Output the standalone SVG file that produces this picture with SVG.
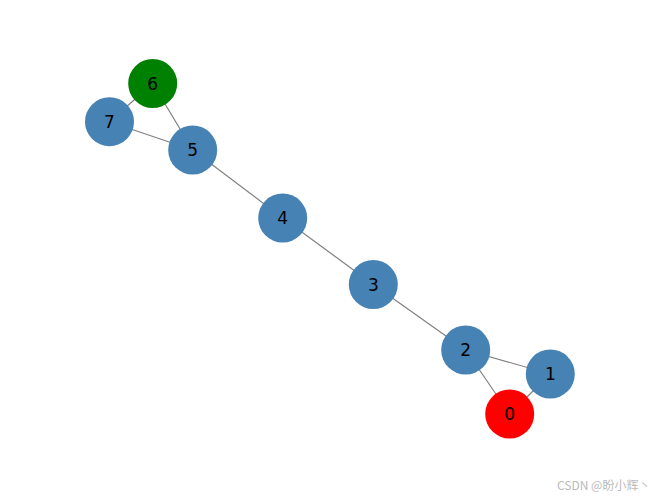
<svg xmlns="http://www.w3.org/2000/svg" width="660" height="499" viewBox="0 0 660 499">
<style>
.e{stroke:#808080;stroke-width:1.2;fill:none}
.n{fill:#4682b4}
.t{font-family:"DejaVu Sans",sans-serif;font-size:17px;fill:#000;text-anchor:middle;dominant-baseline:central}
.w{font-family:"Noto Sans CJK SC","DejaVu Sans",sans-serif;font-size:12px;fill:#bbb}
</style>
<rect width="660" height="499" fill="#fff"/>
<g id="edges">
<line class="e" x1="152.7" y1="83.5" x2="109.5" y2="121.7"/>
<line class="e" x1="152.7" y1="83.5" x2="192.7" y2="150"/>
<line class="e" x1="109.5" y1="121.7" x2="192.7" y2="150"/>
<line class="e" x1="192.7" y1="150" x2="282.7" y2="218"/>
<line class="e" x1="282.7" y1="218" x2="373.3" y2="284.5"/>
<line class="e" x1="373.3" y1="284.5" x2="465.7" y2="350"/>
<line class="e" x1="465.7" y1="350" x2="550.3" y2="374"/>
<line class="e" x1="465.7" y1="350" x2="509.7" y2="414"/>
<line class="e" x1="550.3" y1="374" x2="509.7" y2="414"/>
</g>
<g id="node6"><circle cx="152.7" cy="83.5" r="24.5" fill="#008000"/><text class="t" x="152.7" y="83.5">6</text></g>
<g id="node7"><circle class="n" cx="109.5" cy="121.7" r="24.5"/><text class="t" x="109.5" y="121.7">7</text></g>
<g id="node5"><circle class="n" cx="192.7" cy="150" r="24.5"/><text class="t" x="192.7" y="150">5</text></g>
<g id="node4"><circle class="n" cx="282.7" cy="218" r="24.5"/><text class="t" x="282.7" y="218">4</text></g>
<g id="node3"><circle class="n" cx="373.3" cy="284.5" r="24.5"/><text class="t" x="373.3" y="284.5">3</text></g>
<g id="node2"><circle class="n" cx="465.7" cy="350" r="24.5"/><text class="t" x="465.7" y="350">2</text></g>
<g id="node1"><circle class="n" cx="550.3" cy="374" r="24.5"/><text class="t" x="550.3" y="374">1</text></g>
<g id="node0"><circle cx="509.7" cy="414" r="24.5" fill="#ff0000"/><text class="t" x="509.7" y="414">0</text></g>
<text class="w" x="557" y="490">CSDN @盼小辉丶</text>
</svg>
